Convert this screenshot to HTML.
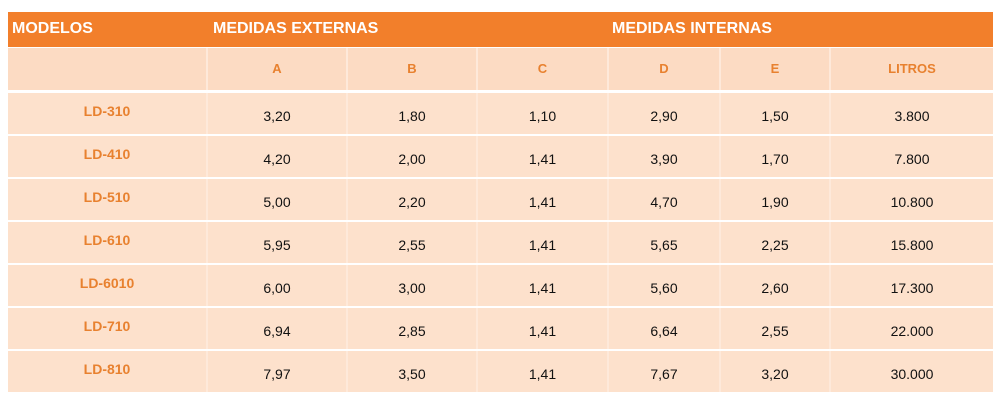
<!DOCTYPE html>
<html><head><style>
body{margin:0;width:1000px;height:403px;background:#fff;position:relative;font-family:"Liberation Sans",sans-serif;overflow:hidden}
.h{position:absolute;left:8px;top:12px;width:985px;height:35px;background:#F27F2B}
.ht{position:absolute;top:20px;color:#fff;font-weight:bold;font-size:16px}
.r{position:absolute;left:8px;width:985px;height:41px;background:#FDE1CC;display:flex}
.r div{position:relative;height:100%;border-right:2px solid #FEE9DA;box-sizing:border-box;text-align:center;font-size:14px;color:#111;line-height:47px}
.r div.m{color:#E8812F;font-weight:bold;line-height:37px}
.r div:last-child{border-right:none}
.s div{line-height:42px;color:#E8812F;font-weight:bold;font-size:13px}
</style></head><body>
<div class="h"></div>
<div class="ht" style="left:12px">MODELOS</div>
<div class="ht" style="left:213px">MEDIDAS EXTERNAS</div>
<div class="ht" style="left:612px">MEDIDAS INTERNAS</div>
<div class="r s" style="top:48px;height:42px;background:#FCDBC3"><div style="width:200px"></div><div style="width:140px">A</div><div style="width:130px">B</div><div style="width:131px">C</div><div style="width:112px">D</div><div style="width:110px">E</div><div style="width:162px">LITROS</div></div>
<div class="r" style="top:93px"><div class="m" style="width:200px">LD-310</div><div style="width:140px">3,20</div><div style="width:130px">1,80</div><div style="width:131px">1,10</div><div style="width:112px">2,90</div><div style="width:110px">1,50</div><div style="width:162px">3.800</div></div>
<div class="r" style="top:136px"><div class="m" style="width:200px">LD-410</div><div style="width:140px">4,20</div><div style="width:130px">2,00</div><div style="width:131px">1,41</div><div style="width:112px">3,90</div><div style="width:110px">1,70</div><div style="width:162px">7.800</div></div>
<div class="r" style="top:179px"><div class="m" style="width:200px">LD-510</div><div style="width:140px">5,00</div><div style="width:130px">2,20</div><div style="width:131px">1,41</div><div style="width:112px">4,70</div><div style="width:110px">1,90</div><div style="width:162px">10.800</div></div>
<div class="r" style="top:222px"><div class="m" style="width:200px">LD-610</div><div style="width:140px">5,95</div><div style="width:130px">2,55</div><div style="width:131px">1,41</div><div style="width:112px">5,65</div><div style="width:110px">2,25</div><div style="width:162px">15.800</div></div>
<div class="r" style="top:265px"><div class="m" style="width:200px">LD-6010</div><div style="width:140px">6,00</div><div style="width:130px">3,00</div><div style="width:131px">1,41</div><div style="width:112px">5,60</div><div style="width:110px">2,60</div><div style="width:162px">17.300</div></div>
<div class="r" style="top:308px"><div class="m" style="width:200px">LD-710</div><div style="width:140px">6,94</div><div style="width:130px">2,85</div><div style="width:131px">1,41</div><div style="width:112px">6,64</div><div style="width:110px">2,55</div><div style="width:162px">22.000</div></div>
<div class="r" style="top:351px"><div class="m" style="width:200px">LD-810</div><div style="width:140px">7,97</div><div style="width:130px">3,50</div><div style="width:131px">1,41</div><div style="width:112px">7,67</div><div style="width:110px">3,20</div><div style="width:162px">30.000</div></div>
</body></html>
